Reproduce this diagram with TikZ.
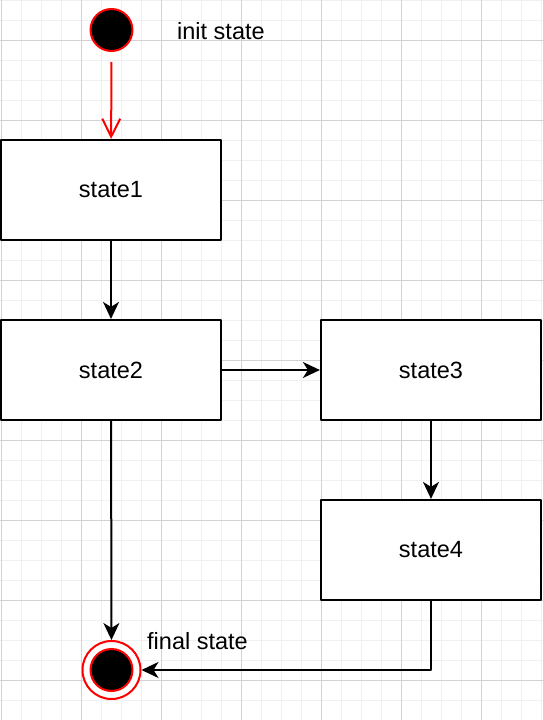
\documentclass[tikz,border=0pt]{standalone}
\usepackage{fontspec}
\setmainfont{Liberation Sans}
\usetikzlibrary{arrows.meta}
\definecolor{gridmajor}{HTML}{D2D2D2}
\definecolor{gridminor}{HTML}{F0F0F0}
\tikzset{
	statebox/.style={draw, fill=white, line width=2.2pt, minimum width=220pt, minimum height=100pt, inner sep=0pt, font=\fontsize{23.5}{28}\selectfont},
	startdot/.style={circle, draw=red, fill=black, line width=2pt, minimum size=42pt, inner sep=0pt},
	enddot/.style={circle, draw=red, fill=white, line width=2pt, minimum size=58pt, inner sep=0pt},
	note/.style={anchor=west, inner sep=0pt, font=\fontsize{23.5}{28}\selectfont},
	flow/.style={line width=2pt, -{Stealth[length=17pt, width=16pt, inset=5pt]}}
}
\begin{document}
\begin{tikzpicture}[x=1pt, y=-1pt, line join=round]
		\useasboundingbox (0,0) rectangle (543,720);
		% grid
		\foreach \x in {1,21,...,541}
		\draw[gridminor, line width=1pt] (\x,0) -- (\x,720);
		\foreach \y in {0,20,...,720}
		\draw[gridminor, line width=1pt] (0,\y) -- (543,\y);
		\foreach \x in {1,81,...,481}
		\draw[gridmajor, line width=1pt] (\x,0) -- (\x,720);
		\foreach \y in {40,120,...,680}
		\draw[gridmajor, line width=1pt] (0,\y) -- (543,\y);
		\path
		(111.5,30) coordinate (I)
		(111,190) coordinate (A)
		(111,370) coordinate (B)
		(431,370) coordinate (C)
		(431,550) coordinate (D)
		(111.5,670) coordinate (F);
		\node[startdot] (init) at (I) {};
		\node[note] (initlbl) at (177,31) {init state};
		\node[statebox] (state1) at (A) {state1};
		\node[statebox] (state2) at (B) {state2};
		\node[statebox] (state3) at (C) {state3};
		\node[statebox] (state4) at (D) {state4};
		\node[enddot] (final) at (F) {};
		\draw[red, fill=black, line width=2pt] (final.center) circle (21pt);
		\node[note] (finallbl) at (147,641) {final state};
		\draw[red, line width=2pt, shorten <=10pt, -{Straight Barb[length=18pt, width=18pt]}] (init) -- (state1);
		\draw[flow] (state1) -- (state2);
		\draw[flow] (state2) -- (state3);
		\draw[flow] (state3) -- (state4);
		\draw[flow] (state2) -- (final);
		\draw[flow] (state4) |- (final);
	\end{tikzpicture}
\end{document}
